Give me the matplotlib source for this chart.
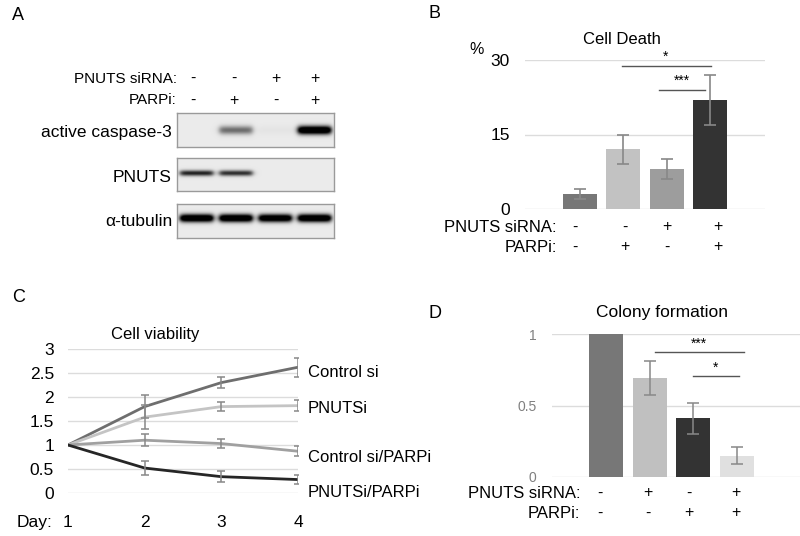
import numpy as np
import matplotlib
matplotlib.use("Agg")
import matplotlib.pyplot as plt
from matplotlib import font_manager as fm
import matplotlib.transforms as mtransforms

# ---------------- data ----------------
conditions_pnuts = ["-", "-", "+", "+"]
conditions_parpi = ["-", "+", "-", "+"]

blot_names = ["active caspase-3", "PNUTS", "\u03b1-tubulin"]
blot_caspase = [0.0, 0.38, 0.02, 1.0]
blot_pnuts = [0.62, 0.58, 0.0, 0.0]
blot_tubulin = [1.0, 1.0, 0.95, 1.0]

death_values = [3.0, 12.0, 8.0, 22.0]
death_err = [1.0, 3.0, 2.0, 5.0]
death_colors = ["#777777", "#c2c2c2", "#9d9d9d", "#333333"]
death_ticks = [0, 15, 30]

days = [1, 2, 3, 4]
viab_names = ["Control si", "PNUTSi", "Control si/PARPi", "PNUTSi/PARPi"]
viab_values = [
    [1.0, 1.80, 2.30, 2.62],
    [1.0, 1.58, 1.80, 1.82],
    [1.0, 1.10, 1.03, 0.87],
    [1.0, 0.52, 0.34, 0.28],
]
viab_err = [
    [0.0, 0.24, 0.11, 0.20],
    [0.0, 0.25, 0.09, 0.11],
    [0.0, 0.12, 0.09, 0.10],
    [0.0, 0.14, 0.11, 0.10],
]
viab_colors = ["#6e6e6e", "#c4c4c4", "#a0a0a0", "#262626"]
viab_ticks = [0, 0.5, 1, 1.5, 2, 2.5, 3]
viab_ticklabels = ["0", "0.5", "1", "1.5", "2", "2.5", "3"]

colony_pnuts = ["-", "+", "-", "+"]
colony_parpi = ["-", "-", "+", "+"]
colony_values = [1.0, 0.69, 0.41, 0.15]
colony_err = [0.0, 0.12, 0.11, 0.06]
colony_colors = ["#777777", "#c0c0c0", "#333333", "#e0e0e0"]
colony_ticks = [0, 0.5, 1]
colony_ticklabels = ["0", "0.5", "1"]

# ---------------- fonts ----------------
def has_font(name):
    try:
        fm.findfont(fm.FontProperties(family=name), fallback_to_default=False)
        return True
    except Exception:
        return False

REG = "Liberation Sans" if has_font("Liberation Sans") else "DejaVu Sans"
NAR = "Liberation Sans Narrow" if has_font("Liberation Sans Narrow") else REG
plt.rcParams["font.family"] = [REG, "DejaVu Sans"]

W, H = 800, 536
fig = plt.figure(figsize=(W / 100, H / 100), dpi=100)


def ax_px(x0, y0, x1, y1):
    return fig.add_axes([x0 / W, 1 - y1 / H, (x1 - x0) / W, (y1 - y0) / H])


def ftext(x, y, s, **kw):
    kw.setdefault("va", "center")
    return fig.text(x / W, 1 - y / H, s, **kw)


# ---------------- panel labels ----------------
ftext(12, 15, "A", fontsize=13, ha="left")
ftext(428, 14, "B", fontsize=13, ha="left")
ftext(12, 297, "C", fontsize=13, ha="left")
ftext(428, 313, "D", fontsize=13, ha="left")

# ---------------- panel A: western blot ----------------
box_x0, box_x1 = 177, 334
lane_w = (box_x1 - box_x0) / 4
blot_boxes = [(113, 147, 17, blot_caspase, 3.0),
              (158, 191, 15, blot_pnuts, 2.0),
              (204, 238, 14, blot_tubulin, 2.8)]
label_y = [133, 177, 221]
for (y0, y1, yc, inten, sig), name, ly in zip(blot_boxes, blot_names, label_y):
    ax = ax_px(box_x0, y0, box_x1, y1)
    hpx, wpx = y1 - y0, box_x1 - box_x0
    yy, xx = np.mgrid[0:hpx * 4, 0:wpx * 4] / 4.0
    img = np.full(yy.shape, 0.08)
    for i, v in enumerate(inten):
        cx = (i + 0.5) * lane_w
        half = lane_w * 0.42
        prof_x = 1 / (1 + np.exp((np.abs(xx - cx) - half) / 1.5))
        prof_y = np.exp(-0.5 * ((yy - yc) / sig) ** 2)
        img = img + v * 1.3 * prof_x * prof_y
    img = np.clip(img, 0, 1)
    ax.imshow(img, cmap="gray_r", vmin=0, vmax=1, aspect="auto",
              extent=[0, wpx, hpx, 0], interpolation="bilinear")
    ax.set_xticks([]); ax.set_yticks([])
    for sp in ax.spines.values():
        sp.set_color("#9a9a9a"); sp.set_linewidth(1.0)
    ftext(172, ly, name, fontsize=12.5, ha="right")

ftext(177, 79, "PNUTS siRNA:", fontsize=11, ha="right", family=NAR)
ftext(177, 100, "PARPi:", fontsize=11, ha="right", family=NAR)
lane_lbl_x = [193, 234, 276, 315]
for i in range(4):
    ftext(lane_lbl_x[i], 78, conditions_pnuts[i], fontsize=11.5, ha="center")
    ftext(lane_lbl_x[i], 100, conditions_parpi[i], fontsize=11.5, ha="center")

# ---------------- panel B: cell death ----------------
axb = ax_px(525, 60, 765, 209)
sp_b = 43.33
xb = np.arange(4)
axb.bar(xb, death_values, width=0.785, color=death_colors, zorder=3)
axb.errorbar(xb, death_values, yerr=death_err, fmt="none", ecolor="#888888",
             elinewidth=1.2, capsize=4, capthick=1.2, zorder=4)
axb.set_xlim(-55 / sp_b, 3 + 55 / sp_b)
axb.set_ylim(0, 30)
for s in axb.spines.values():
    s.set_visible(False)
for t in death_ticks:
    axb.axhline(t, color="#dcdcdc", lw=1.0, zorder=1)
axb.set_yticks(death_ticks)
axb.set_yticklabels([str(t) for t in death_ticks], fontsize=12.5)
axb.tick_params(axis="y", length=0, pad=11)
axb.set_xticks([])
ftext(622, 40, "Cell Death", fontsize=12, ha="center")
ftext(477, 49, "%", fontsize=11.5, ha="center")
# significance
axb.plot([(622 - 580) / sp_b, (711 - 580) / sp_b], [28.8, 28.8], color="#555555", lw=1.0, clip_on=False)
axb.text((666 - 580) / sp_b, 29.2, "*", ha="center", va="bottom", fontsize=10)
axb.plot([(659 - 580) / sp_b, (705 - 580) / sp_b], [24.0, 24.0], color="#555555", lw=1.0, clip_on=False)
axb.text((682 - 580) / sp_b, 24.4, "***", ha="center", va="bottom", fontsize=10)
tb = mtransforms.blended_transform_factory(axb.transData, fig.transFigure)
b_off = [-5, 2, 0, 8]
for i in range(4):
    xx_ = i + b_off[i] / sp_b
    axb.text(xx_, 1 - 227 / H, conditions_pnuts[i], transform=tb, ha="center", va="center", fontsize=11.5)
    axb.text(xx_, 1 - 247 / H, conditions_parpi[i], transform=tb, ha="center", va="center", fontsize=11.5)
ftext(556, 227, "PNUTS siRNA:", fontsize=12, ha="right", family=NAR)
ftext(557, 247, "PARPi:", fontsize=12, ha="right", family=NAR)

# ---------------- panel C: cell viability ----------------
axc = ax_px(68, 349, 298, 493)
for t in viab_ticks:
    axc.axhline(t, color="#dcdcdc", lw=1.0, zorder=1)
for vals, errs, col in zip(viab_values, viab_err, viab_colors):
    axc.plot(days, vals, color=col, lw=2.0, zorder=3, solid_capstyle="round")
    axc.errorbar(days[1:], vals[1:], yerr=errs[1:], fmt="none", ecolor="#888888",
                 elinewidth=1.1, capsize=3, capthick=1.1, zorder=4)
axc.set_xlim(1, 4)
axc.set_ylim(0, 3)
for s in axc.spines.values():
    s.set_visible(False)
axc.set_yticks(viab_ticks)
axc.set_yticklabels(viab_ticklabels, fontsize=12.5)
axc.tick_params(axis="y", length=0, pad=10)
axc.set_xticks(days)
axc.set_xticklabels([str(d) for d in days], fontsize=12.5)
axc.tick_params(axis="x", length=0, pad=16)
ftext(53, 522, "Day:", fontsize=12.5, ha="right", family=NAR)
ftext(155, 335, "Cell viability", fontsize=12, ha="center")
label_vals = [2.52, 1.77, 0.75, 0.02]
for name, lv in zip(viab_names, label_vals):
    axc.text(4 + 10 / (230 / 3), lv, name, ha="left", va="center", fontsize=12,
             family=NAR, clip_on=False)

# ---------------- panel D: colony formation ----------------
axd = ax_px(552, 334, 800, 477)
sp_d = 43.67
xd = np.arange(4)
for t in colony_ticks:
    axd.axhline(t, color="#dcdcdc", lw=1.0, zorder=1)
axd.bar(xd, colony_values, width=0.78, color=colony_colors, zorder=3)
axd.errorbar(xd[1:], colony_values[1:], yerr=colony_err[1:], fmt="none", ecolor="#888888",
             elinewidth=1.1, capsize=4, capthick=1.1, zorder=4)
axd.set_xlim(-54 / sp_d, 3 + 63 / sp_d)
axd.set_ylim(0, 1)
for s in axd.spines.values():
    s.set_visible(False)
axd.set_yticks(colony_ticks)
axd.set_yticklabels(colony_ticklabels, fontsize=10, color="#808080")
axd.tick_params(axis="y", length=0, pad=11)
axd.set_xticks([])
ftext(662, 313, "Colony formation", fontsize=12.5, ha="center")
axd.plot([(655 - 606) / sp_d, (744 - 606) / sp_d], [0.874, 0.874], color="#555555", lw=1.0, clip_on=False)
axd.text((699 - 606) / sp_d, 0.885, "***", ha="center", va="bottom", fontsize=10)
axd.plot([(693 - 606) / sp_d, (739 - 606) / sp_d], [0.706, 0.706], color="#555555", lw=1.0, clip_on=False)
axd.text((716 - 606) / sp_d, 0.717, "*", ha="center", va="bottom", fontsize=10)
td = mtransforms.blended_transform_factory(axd.transData, fig.transFigure)
d_off = [-6, -2, -4, -1]
for i in range(4):
    xx_ = i + d_off[i] / sp_d
    axd.text(xx_, 1 - 493 / H, colony_pnuts[i], transform=td, ha="center", va="center", fontsize=11.5)
    axd.text(xx_, 1 - 513 / H, colony_parpi[i], transform=td, ha="center", va="center", fontsize=11.5)
ftext(580, 493, "PNUTS siRNA:", fontsize=12, ha="right", family=NAR)
ftext(580, 513, "PARPi:", fontsize=12, ha="right", family=NAR)

fig.savefig("out.png", dpi=100)
